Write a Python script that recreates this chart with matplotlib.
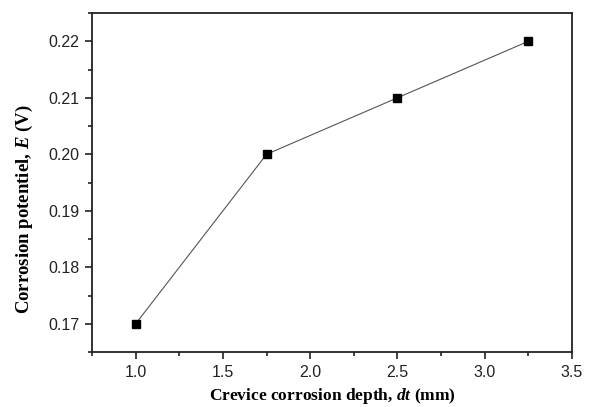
import matplotlib
matplotlib.use('Agg')
import matplotlib.pyplot as plt
from matplotlib.ticker import MultipleLocator

plt.rcParams['mathtext.fontset'] = 'custom'
plt.rcParams['mathtext.it'] = 'Liberation Serif:italic:bold'
plt.rcParams['mathtext.rm'] = 'Liberation Serif:bold'

# crevice depth (mm) vs corrosion potential (V)
depth = [1.0, 1.75, 2.5, 3.25]
potential = [0.17, 0.20, 0.21, 0.22]

fig = plt.figure(figsize=(5.9, 4.07), dpi=100)
ax = fig.add_axes([0.156, 0.135, 0.8135, 0.833])

ax.plot(depth, potential, color='#555555', linewidth=0.8,
        marker='s', markersize=5.5, markerfacecolor='black',
        markeredgecolor='black')

ax.set_xlim(0.75, 3.5)
ax.set_ylim(0.165, 0.225)
ax.xaxis.set_major_locator(MultipleLocator(0.5))
ax.xaxis.set_minor_locator(MultipleLocator(0.25))
ax.yaxis.set_major_locator(MultipleLocator(0.01))
ax.yaxis.set_minor_locator(MultipleLocator(0.005))
ax.xaxis.set_major_formatter(plt.FormatStrFormatter('%.1f'))
ax.yaxis.set_major_formatter(plt.FormatStrFormatter('%.2f'))

ax.tick_params(which='both', direction='out', top=False, right=False,
               width=1.2, colors='#222222')
ax.tick_params(which='major', length=5, labelsize=11.5, pad=4)
ax.tick_params(which='minor', length=3)
for lbl in ax.get_xticklabels() + ax.get_yticklabels():
    lbl.set_family('Liberation Sans')

for s in ax.spines.values():
    s.set_linewidth(1.3)
    s.set_color('#222222')

ax.set_xlabel('Crevice corrosion depth, $\\mathit{dt}$ (mm)',
              family='Liberation Serif', fontweight='bold', fontsize=12.5,
              labelpad=5)
ax.set_ylabel('Corrosion potentiel, $\\mathit{E}$ (V)',
              family='Liberation Serif', fontweight='bold', fontsize=13.5,
              labelpad=8)
ax.yaxis.set_label_coords(-0.118, 0.42)

fig.savefig('out.png', dpi=100)
